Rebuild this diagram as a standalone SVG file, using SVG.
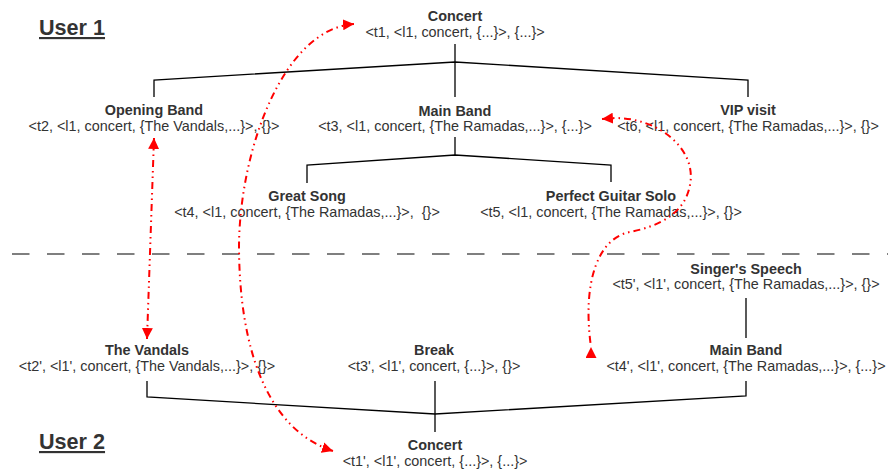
<svg xmlns="http://www.w3.org/2000/svg" width="888" height="474" viewBox="0 0 888 474">
  <style>
    text { font-family: "Liberation Sans", Arial, sans-serif; fill: #333333; text-anchor: middle; white-space: pre; }
    .title { font-size: 14.4px; font-weight: bold; }
    .sub { font-size: 14.4px; }
    .user { font-size: 21.6px; font-weight: bold; text-anchor: start; text-decoration: underline; }
    .tree { fill: none; stroke: #000000; stroke-width: 1.3; }
    .sep { fill: none; stroke: #555555; stroke-width: 1.5; stroke-dasharray: 17.5 17.5; }
    .link { fill: none; stroke: #ff0000; stroke-width: 2; stroke-dasharray: 7 4 1.5 4 1.5 4; }
  </style>
  <defs>
    <marker id="arr" viewBox="0 0 10 10" refX="10" refY="5" markerWidth="11" markerHeight="11" markerUnits="userSpaceOnUse" orient="auto-start-reverse">
      <path d="M0,0 L10,5 L0,10 z" fill="#ff0000"/>
    </marker>
    <marker id="arrUp" viewBox="0 0 10 10" refX="10" refY="5" markerWidth="11" markerHeight="11" markerUnits="userSpaceOnUse" orient="270">
      <path d="M0,0 L10,5 L0,10 z" fill="#ff0000"/>
    </marker>
  </defs>

  <!-- section headings -->
  <text class="user" x="39" y="35">User 1</text>
  <text class="user" x="39" y="449">User 2</text>

  <!-- separator between the two users -->
  <line class="sep" x1="12" y1="254" x2="888" y2="254"/>

  <!-- tree edges -->
  <g id="edges">
    <line class="tree" x1="455" y1="44" x2="455" y2="62"/>
    <polyline class="tree" points="154,97 154,80 455,62 748,80 748,97"/>
    <line class="tree" x1="455" y1="62" x2="455" y2="97"/>
    <line class="tree" x1="455" y1="137" x2="455" y2="155"/>
    <polyline class="tree" points="307,183 307,165 455,155 611,165 611,182"/>
    <line class="tree" x1="746" y1="298" x2="746" y2="338"/>
    <polyline class="tree" points="147,381 147,397 435,414 746,396 746,381"/>
    <line class="tree" x1="435" y1="381" x2="435" y2="432"/>
  </g>

  <!-- user 1 nodes -->
  <g id="u1-concert">
    <text class="title" x="455" y="21">Concert</text>
    <text class="sub" x="455" y="36.5">&lt;t1, &lt;l1, concert, {...}&gt;, {...}&gt;</text>
  </g>
  <g id="u1-opening-band">
    <text class="title" x="154" y="115">Opening Band</text>
    <text class="sub" x="154" y="130.5">&lt;t2, &lt;l1, concert, {The Vandals,...}&gt;, {}&gt;</text>
  </g>
  <g id="u1-main-band">
    <text class="title" x="455" y="115.5">Main Band</text>
    <text class="sub" x="455" y="131">&lt;t3, &lt;l1, concert, {The Ramadas,...}&gt;, {...}&gt;</text>
  </g>
  <g id="u1-vip-visit">
    <text class="title" x="748" y="115">VIP visit</text>
    <text class="sub" x="748" y="130.5">&lt;t6, &lt;l1, concert, {The Ramadas,...}&gt;, {}&gt;</text>
  </g>
  <g id="u1-great-song">
    <text class="title" x="307" y="201">Great Song</text>
    <text class="sub" x="307" y="216.5">&lt;t4, &lt;l1, concert, {The Ramadas,...}&gt;,  {}&gt;</text>
  </g>
  <g id="u1-guitar-solo">
    <text class="title" x="611" y="201">Perfect Guitar Solo</text>
    <text class="sub" x="611" y="216.5">&lt;t5, &lt;l1, concert, {The Ramadas,...}&gt;, {}&gt;</text>
  </g>

  <!-- user 2 nodes -->
  <g id="u2-singers-speech">
    <text class="title" x="746" y="273.5">Singer's Speech</text>
    <text class="sub" x="746" y="289">&lt;t5', &lt;l1', concert, {The Ramadas,...}&gt;, {}&gt;</text>
  </g>
  <g id="u2-the-vandals">
    <text class="title" x="147" y="355">The Vandals</text>
    <text class="sub" x="147" y="370.5">&lt;t2', &lt;l1', concert, {The Vandals,...}&gt;, {}&gt;</text>
  </g>
  <g id="u2-break">
    <text class="title" x="434" y="355">Break</text>
    <text class="sub" x="434" y="370.5">&lt;t3', &lt;l1', concert, {...}&gt;, {}&gt;</text>
  </g>
  <g id="u2-main-band">
    <text class="title" x="746" y="355">Main Band</text>
    <text class="sub" x="746" y="370.5">&lt;t4', &lt;l1', concert, {The Ramadas,...}&gt;, {...}&gt;</text>
  </g>
  <g id="u2-concert">
    <text class="title" x="435" y="450">Concert</text>
    <text class="sub" x="435" y="466">&lt;t1', &lt;l1', concert, {...}&gt;, {...}&gt;</text>
  </g>

  <!-- correspondences between the two users -->
  <g id="links">
    <path class="link" d="M154,138 L147,339" marker-start="url(#arr)" marker-end="url(#arr)"/>
    <path class="link" d="M354,24 C283,29 240,150 239,245 C239,350 268,430 333,451" marker-start="url(#arr)" marker-end="url(#arr)"/>
    <path class="link" d="M602,119 L615,118 C660,118 697,150 690,185 C685,213 660,226 630,232 C598,238 582,282 591,347" marker-start="url(#arr)" marker-end="url(#arrUp)"/>
  </g>
</svg>
